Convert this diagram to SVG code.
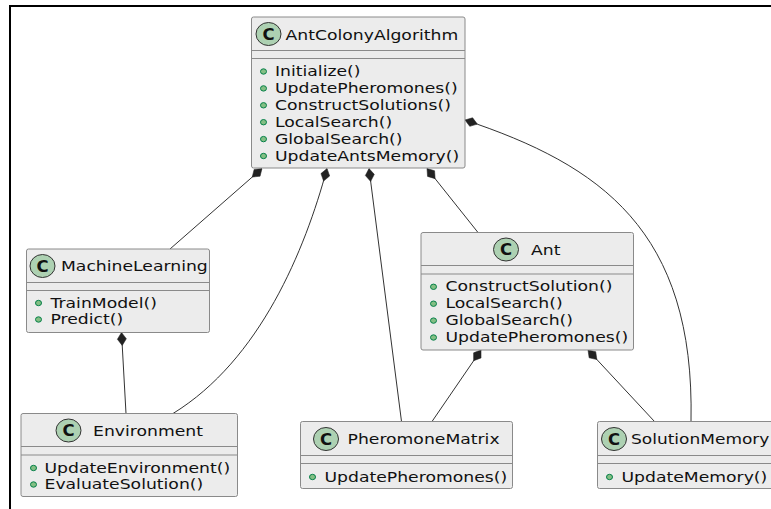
<svg xmlns="http://www.w3.org/2000/svg" width="771" height="509" viewBox="0 0 771 509">
<style>
.box{fill:#ececec;stroke:#8a8a8a;stroke-width:1}
.div{stroke:#8a8a8a;stroke-width:1}
.ic{fill:#add1b2;stroke:#333;stroke-width:1}
.cl{font-family:"DejaVu Sans",sans-serif;font-size:15px;font-weight:bold;fill:#111;text-anchor:middle}
.nm{font-family:"DejaVu Sans",sans-serif;font-size:14.6px;fill:#111}
.mb{font-family:"DejaVu Sans",sans-serif;font-size:14.6px;fill:#111}
.dot{fill:#84be84;stroke:#038048;stroke-width:1}
.edge{fill:none;stroke:#333;stroke-width:1;marker-start:url(#comp)}
</style>
<defs>
<marker id="comp" markerUnits="userSpaceOnUse" markerWidth="16" markerHeight="12" refX="0" refY="5" orient="auto" viewBox="0 0 16 10">
<path d="M0,5 L6.5,0.5 L13,5 L6.5,9.5 Z" fill="#222" stroke="#222" stroke-width="0.5"/>
</marker>
</defs>
<rect width="771" height="509" fill="#fff"/>
<rect x="10" y="6" width="800" height="560" fill="none" stroke="#000" stroke-width="2"/>

<g id="edges">
<path class="edge" d="M262,168.5 L170,249"/>
<path class="edge" d="M327,168.5 C305,250 260,360 173,413.5"/>
<path class="edge" d="M369,168.5 L401.5,421.5"/>
<path class="edge" d="M427,168.5 L478,232.5"/>
<path class="edge" d="M465,120 C600,165 695,230 691,421.5"/>
<path class="edge" d="M121.5,332.5 L126,413.5"/>
<path class="edge" d="M481,350 L432,421.5"/>
<path class="edge" d="M588,350 L654.5,421.5"/>
</g>

<g id="AntColonyAlgorithm">
<rect class="box" x="251.5" y="17" width="213.5" height="151" rx="2"/>
<line class="div" x1="251.5" y1="50.5" x2="465" y2="50.5"/>
<line class="div" x1="251.5" y1="58.5" x2="465" y2="58.5"/>
<ellipse class="ic" cx="268.5" cy="34" rx="12.5" ry="11.5"/>
<text class="cl" transform="translate(268.5,39.5) scale(1.1,1)">C</text>
<text class="nm" transform="translate(285.5,39.5) scale(1.18,1)">AntColonyAlgorithm</text>
<ellipse class="dot" cx="263.5" cy="71.5" rx="3" ry="2.7"/>
<text class="mb" transform="translate(275,76) scale(1.18,1)">Initialize()</text>
<ellipse class="dot" cx="263.5" cy="88.4" rx="3" ry="2.7"/>
<text class="mb" transform="translate(275,92.9) scale(1.18,1)">UpdatePheromones()</text>
<ellipse class="dot" cx="263.5" cy="105.3" rx="3" ry="2.7"/>
<text class="mb" transform="translate(275,109.8) scale(1.18,1)">ConstructSolutions()</text>
<ellipse class="dot" cx="263.5" cy="122.2" rx="3" ry="2.7"/>
<text class="mb" transform="translate(275,126.7) scale(1.18,1)">LocalSearch()</text>
<ellipse class="dot" cx="263.5" cy="139.1" rx="3" ry="2.7"/>
<text class="mb" transform="translate(275,143.6) scale(1.18,1)">GlobalSearch()</text>
<ellipse class="dot" cx="263.5" cy="156" rx="3" ry="2.7"/>
<text class="mb" transform="translate(275,160.5) scale(1.18,1)">UpdateAntsMemory()</text>
</g>

<g id="MachineLearning">
<rect class="box" x="26.5" y="249" width="183" height="83.5" rx="2"/>
<line class="div" x1="26.5" y1="282.5" x2="209.5" y2="282.5"/>
<line class="div" x1="26.5" y1="290.5" x2="209.5" y2="290.5"/>
<ellipse class="ic" cx="42.5" cy="266" rx="12.5" ry="11.5"/>
<text class="cl" transform="translate(42.5,271.5) scale(1.1,1)">C</text>
<text class="nm" transform="translate(61,271) scale(1.18,1)">MachineLearning</text>
<ellipse class="dot" cx="38.5" cy="303" rx="3" ry="2.7"/>
<text class="mb" transform="translate(50.5,307.5) scale(1.18,1)">TrainModel()</text>
<ellipse class="dot" cx="38.5" cy="319.5" rx="3" ry="2.7"/>
<text class="mb" transform="translate(50.5,324) scale(1.18,1)">Predict()</text>
</g>

<g id="Ant">
<rect class="box" x="421" y="232.5" width="212.5" height="117.5" rx="2"/>
<line class="div" x1="421" y1="265.5" x2="633.5" y2="265.5"/>
<line class="div" x1="421" y1="274" x2="633.5" y2="274"/>
<ellipse class="ic" cx="506" cy="249.5" rx="12.5" ry="11.5"/>
<text class="cl" transform="translate(506,255) scale(1.1,1)">C</text>
<text class="nm" transform="translate(531,254.5) scale(1.18,1)">Ant</text>
<ellipse class="dot" cx="433.5" cy="286.8" rx="3" ry="2.7"/>
<text class="mb" transform="translate(445.5,291.3) scale(1.18,1)">ConstructSolution()</text>
<ellipse class="dot" cx="433.5" cy="303.7" rx="3" ry="2.7"/>
<text class="mb" transform="translate(445.5,308.2) scale(1.18,1)">LocalSearch()</text>
<ellipse class="dot" cx="433.5" cy="320.6" rx="3" ry="2.7"/>
<text class="mb" transform="translate(445.5,325.1) scale(1.18,1)">GlobalSearch()</text>
<ellipse class="dot" cx="433.5" cy="337.5" rx="3" ry="2.7"/>
<text class="mb" transform="translate(445.5,342) scale(1.18,1)">UpdatePheromones()</text>
</g>

<g id="Environment">
<rect class="box" x="21" y="413.5" width="216.5" height="83" rx="2"/>
<line class="div" x1="21" y1="446.5" x2="237.5" y2="446.5"/>
<line class="div" x1="21" y1="455" x2="237.5" y2="455"/>
<ellipse class="ic" cx="68.5" cy="430.5" rx="12.5" ry="11.5"/>
<text class="cl" transform="translate(68.5,436) scale(1.1,1)">C</text>
<text class="nm" transform="translate(93,435.5) scale(1.18,1)">Environment</text>
<ellipse class="dot" cx="33.5" cy="468" rx="3" ry="2.7"/>
<text class="mb" transform="translate(44.5,472.5) scale(1.18,1)">UpdateEnvironment()</text>
<ellipse class="dot" cx="33.5" cy="484.5" rx="3" ry="2.7"/>
<text class="mb" transform="translate(44.5,489) scale(1.18,1)">EvaluateSolution()</text>
</g>

<g id="PheromoneMatrix">
<rect class="box" x="300.5" y="421.5" width="212" height="67" rx="2"/>
<line class="div" x1="300.5" y1="455.5" x2="512.5" y2="455.5"/>
<line class="div" x1="300.5" y1="463.5" x2="512.5" y2="463.5"/>
<ellipse class="ic" cx="326" cy="439" rx="12.5" ry="11.5"/>
<text class="cl" transform="translate(326,444.5) scale(1.1,1)">C</text>
<text class="nm" transform="translate(347.5,444) scale(1.18,1)">PheromoneMatrix</text>
<ellipse class="dot" cx="312.5" cy="477" rx="3" ry="2.7"/>
<text class="mb" transform="translate(324.5,481.5) scale(1.18,1)">UpdatePheromones()</text>
</g>

<g id="SolutionMemory">
<rect class="box" x="597.5" y="421.5" width="182" height="67" rx="2"/>
<line class="div" x1="597.5" y1="455.5" x2="779.5" y2="455.5"/>
<line class="div" x1="597.5" y1="463.5" x2="779.5" y2="463.5"/>
<ellipse class="ic" cx="614" cy="439" rx="12.5" ry="11.5"/>
<text class="cl" transform="translate(614,444.5) scale(1.1,1)">C</text>
<text class="nm" transform="translate(631,444) scale(1.165,1)">SolutionMemory</text>
<ellipse class="dot" cx="609.5" cy="477" rx="3" ry="2.7"/>
<text class="mb" transform="translate(621.5,481.5) scale(1.18,1)">UpdateMemory()</text>
</g>
</svg>
